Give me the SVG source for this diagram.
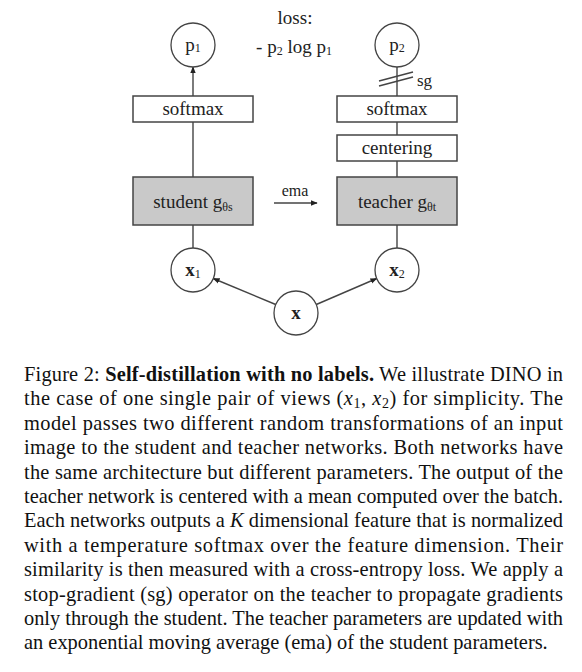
<svg xmlns="http://www.w3.org/2000/svg" width="582" height="672" viewBox="0 0 582 672">
<style>
text{font-family:"Liberation Serif","Times New Roman",serif}
.lbl{font-size:19px;fill:#222;text-anchor:middle}
.sub{font-size:12px}
.box{fill:#fff;stroke:#444;stroke-width:1.5}
.gbox{fill:#c9c9c9;stroke:#444;stroke-width:1.5}
.circ{fill:#fff;stroke:#444;stroke-width:1.3}
.ln{stroke:#444;stroke-width:1.4;fill:none}
.cap{font-size:20.4px;fill:#111}
</style>
<defs>
<marker id="ah" viewBox="0 0 10 10" refX="9" refY="5" markerWidth="7" markerHeight="7" markerUnits="userSpaceOnUse" orient="auto">
<path d="M0,1 L10,5 L0,9 z" fill="#222"/>
</marker>
</defs>
<rect width="582" height="672" fill="#fff"/>

<g id="connectors">
<line class="ln" x1="193" y1="96" x2="193" y2="67" marker-end="url(#ah)"/>
<line class="ln" x1="193" y1="122" x2="193" y2="177"/>
<line class="ln" x1="193" y1="225" x2="193" y2="248"/>
<line class="ln" x1="397" y1="67" x2="397" y2="96"/>
<line class="ln" x1="397" y1="122" x2="397" y2="135"/>
<line class="ln" x1="397" y1="161" x2="397" y2="177"/>
<line class="ln" x1="397" y1="225" x2="397" y2="248"/>
<line class="ln" x1="379" y1="86" x2="413" y2="77"/>
<line class="ln" x1="379" y1="81" x2="413" y2="72"/>
<line class="ln" x1="275.7" y1="304.5" x2="213.3" y2="278.5" marker-end="url(#ah)"/>
<line class="ln" x1="316.3" y1="304.5" x2="376.7" y2="278.5" marker-end="url(#ah)"/>
<line class="ln" x1="274" y1="203" x2="317" y2="203" marker-end="url(#ah)"/>
<text class="lbl" x="417" y="86" font-family="Liberation Serif, serif" style="text-anchor:start;font-size:17px">sg</text>
<text class="lbl" x="295" y="196" font-family="Liberation Serif, serif" style="font-size:16px">ema</text>
</g>

<g id="loss" font-family="Liberation Serif, serif">
<text class="lbl" x="295" y="24">loss:</text>
<text class="lbl" x="294" y="53">- p<tspan class="sub" dy="2">2</tspan><tspan dy="-2"> log p</tspan><tspan class="sub" dy="2">1</tspan></text>
</g>

<g id="p1"><circle class="circ" cx="193" cy="45" r="22"/><text class="lbl" x="193" y="51">p<tspan class="sub" dy="1">1</tspan></text></g>
<g id="p2"><circle class="circ" cx="397" cy="45" r="22"/><text class="lbl" x="397" y="51">p<tspan class="sub" dy="1">2</tspan></text></g>
<g id="softmax-s"><rect class="box" x="133" y="96" width="120" height="26"/><text class="lbl" x="193" y="115">softmax</text></g>
<g id="softmax-t"><rect class="box" x="337" y="96" width="120" height="26"/><text class="lbl" x="397" y="115">softmax</text></g>
<g id="centering"><rect class="box" x="337" y="135" width="120" height="26"/><text class="lbl" x="397" y="154">centering</text></g>
<g id="student"><rect class="gbox" x="133" y="177" width="120" height="48"/><text class="lbl" x="193" y="208">student g<tspan class="sub" dy="3">θs</tspan></text></g>
<g id="teacher"><rect class="gbox" x="337" y="177" width="120" height="48"/><text class="lbl" x="397" y="208">teacher g<tspan class="sub" dy="3">θt</tspan></text></g>
<g id="x1"><circle class="circ" cx="193" cy="270" r="22"/><text class="lbl" x="193" y="276"><tspan font-weight="bold">x</tspan><tspan class="sub" dy="2">1</tspan></text></g>
<g id="x2"><circle class="circ" cx="397" cy="270" r="22"/><text class="lbl" x="397" y="276"><tspan font-weight="bold">x</tspan><tspan class="sub" dy="2">2</tspan></text></g>
<g id="x"><circle class="circ" cx="296" cy="313" r="22"/><text class="lbl" x="296" y="319" font-weight="bold">x</text></g>

<g id="caption">
<text class="cap" x="24" y="381" textLength="539">Figure 2: <tspan font-weight="bold">Self-distillation with no labels.</tspan> We illustrate DINO in</text>
<text class="cap" x="24" y="405.4" textLength="539">the case of one single pair of views (<tspan font-style="italic">x</tspan><tspan font-size="14" dy="3">1</tspan><tspan dy="-3">, </tspan><tspan font-style="italic">x</tspan><tspan font-size="14" dy="3">2</tspan><tspan dy="-3">) for simplicity. The</tspan></text>
<text class="cap" x="24" y="429.8" textLength="539">model passes two different random transformations of an input</text>
<text class="cap" x="24" y="454.2" textLength="539">image to the student and teacher networks. Both networks have</text>
<text class="cap" x="24" y="478.6" textLength="539">the same architecture but different parameters. The output of the</text>
<text class="cap" x="24" y="503" textLength="539">teacher network is centered with a mean computed over the batch.</text>
<text class="cap" x="24" y="527.4" textLength="539">Each networks outputs a <tspan font-style="italic">K</tspan> dimensional feature that is normalized</text>
<text class="cap" x="24" y="551.8" textLength="539">with a temperature softmax over the feature dimension.  Their</text>
<text class="cap" x="24" y="576.2" textLength="539">similarity is then measured with a cross-entropy loss. We apply a</text>
<text class="cap" x="24" y="600.6" textLength="539">stop-gradient (sg) operator on the teacher to propagate gradients</text>
<text class="cap" x="24" y="625" textLength="539">only through the student. The teacher parameters are updated with</text>
<text class="cap" x="24" y="649.4">an exponential moving average (ema) of the student parameters.</text>
</g>
</svg>
